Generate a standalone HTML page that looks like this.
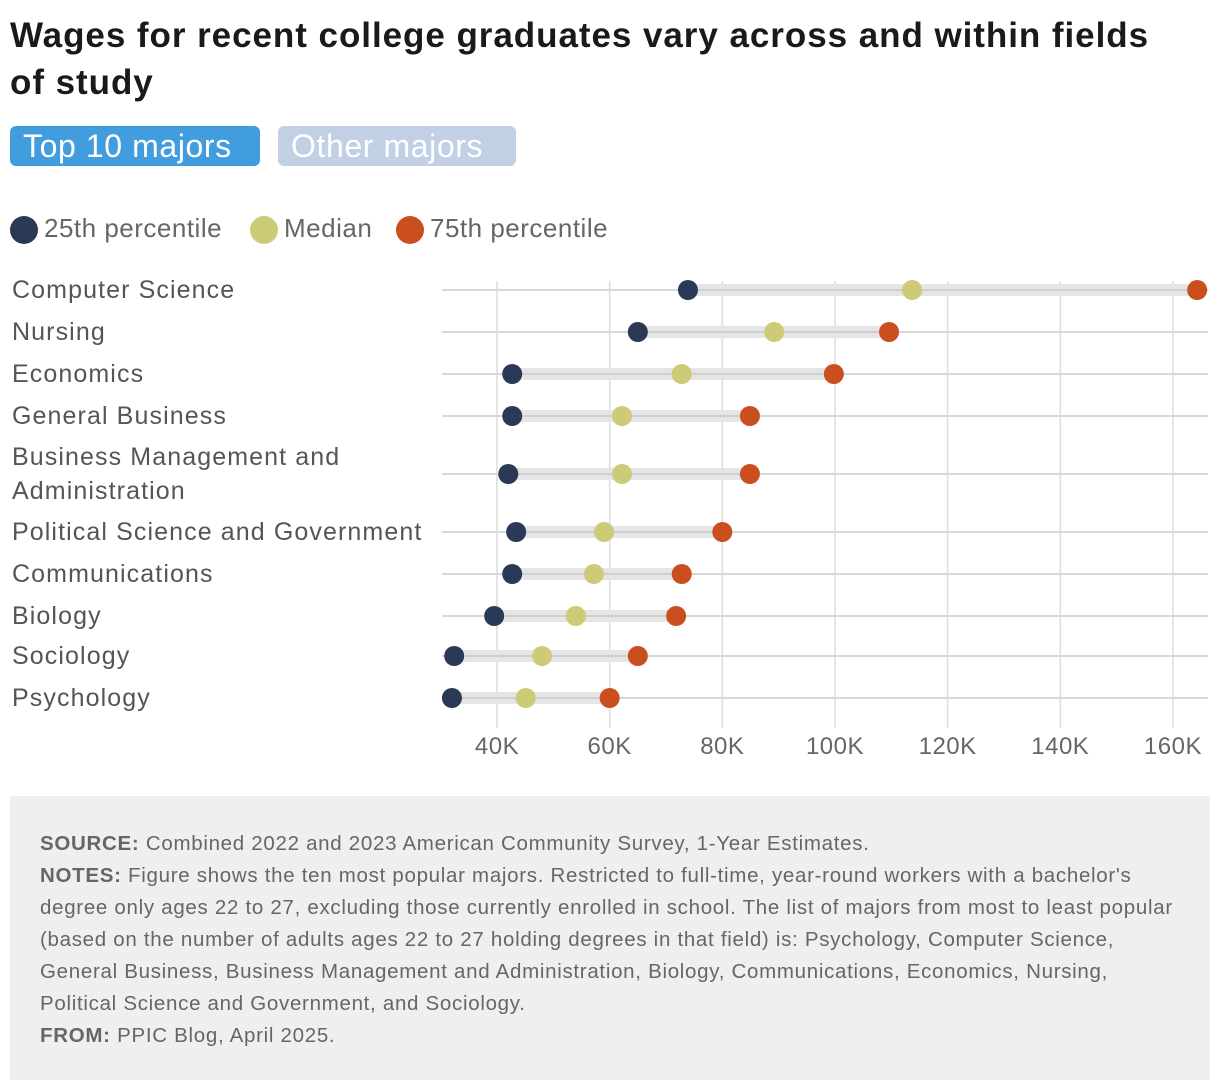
<!DOCTYPE html>
<html><head><meta charset="utf-8"><style>
body{margin:0;width:1220px;height:1090px;background:#fff;font-family:"Liberation Sans",sans-serif;position:relative;overflow:hidden}
.t{position:absolute;left:10px;top:12px;width:1210px;font-size:35px;font-weight:bold;color:#1a1a1a;line-height:47px;letter-spacing:0.95px;white-space:nowrap}
.btn{position:absolute;top:126px;height:40px;border-radius:6px;color:#fff;font-size:32px;line-height:40px;padding-left:13px;box-sizing:border-box;letter-spacing:0.6px;white-space:nowrap}
.foot{position:absolute;left:10px;top:796px;width:1200px;height:284px;background:#eeeff1;box-sizing:border-box;padding:32px 30px;font-size:20.5px;line-height:32px;color:#666;letter-spacing:0.7px;white-space:nowrap;overflow:hidden}
.foot b{color:#666}
</style></head><body>
<div class="t">Wages for recent college graduates vary across and within fields<br>of study</div>
<div class="btn" style="left:10px;width:250px;background:#429ddf">Top 10 majors</div>
<div class="btn" style="left:278px;width:238px;background:#c1d0e4">Other majors</div>
<svg id="c" width="1220" height="790" style="position:absolute;left:0;top:0"></svg>
<div class="foot"><b>SOURCE:</b> Combined 2022 and 2023 American Community Survey, 1-Year Estimates.<br><b>NOTES:</b> Figure shows the ten most popular majors. Restricted to full-time, year-round workers with a bachelor's<br>degree only ages 22 to 27, excluding those currently enrolled in school. The list of majors from most to least popular<br>(based on the number of adults ages 22 to 27 holding degrees in that field) is: Psychology, Computer Science,<br>General Business, Business Management and Administration, Biology, Communications, Economics, Nursing,<br>Political Science and Government, and Sociology.<br><b>FROM:</b> PPIC Blog, April 2025.</div>
<script>
const categories=["Computer Science","Nursing","Economics","General Business","Business Management and|Administration","Political Science and Government","Communications","Biology","Sociology","Psychology"];
const p25=[73.9,65,42.7,42.7,42,43.4,42.7,39.5,32.4,32];
const median=[113.7,89.2,72.8,62.2,62.2,59,57.2,54,48,45.1];
const p75=[164.3,109.6,99.8,84.9,84.9,80,72.8,71.8,65,60];
const ticks=[40,60,80,100,120,140,160];
const tickLabels=["40K","60K","80K","100K","120K","140K","160K"];
const rowY=[290,332,374,416,474,532,574,616,656,698];
const NS="http://www.w3.org/2000/svg",svg=document.getElementById('c');
const x=v=>497+(v-40)*5.633;
function mk(t,a,p){const e=document.createElementNS(NS,t);for(const k in a)e.setAttribute(k,a[k]);(p||svg).appendChild(e);return e;}
const cols=["#2a3a56","#cdcb78","#cb4f1e"],names=["25th percentile","Median","75th percentile"],lx=[24,264,410];
names.forEach((n,i)=>{const g=mk('g',{});


mk('circle',{cx:lx[i],cy:230,r:14,fill:cols[i]},g);
const t=mk('text',{x:lx[i]+20,y:237,'font-size':26,fill:'#666','letter-spacing':0.5},g);t.textContent=n;});
ticks.forEach((v,i)=>{const l=mk('line',{x1:x(v),x2:x(v),y1:281,y2:728,stroke:'#dcdcdc','stroke-width':1.5});


const t=mk('text',{x:x(v),y:754,'font-size':24,fill:'#666','text-anchor':'middle','letter-spacing':0.5});t.textContent=tickLabels[i];

});
categories.forEach((c,i)=>{const y=rowY[i];
mk('line',{x1:442,x2:1208,y1:y,y2:y,stroke:'#d8d8d8','stroke-width':2});
const parts=c.split('|');
parts.forEach((p,j)=>{const t=mk('text',{x:12,y:y+8-(parts.length-1)*17+j*34,'font-size':25,fill:'#555','letter-spacing':1.1});t.textContent=p;

});
const b=mk('rect',{x:x(p25[i]),y:y-6,width:x(p75[i])-x(p25[i]),height:12,fill:'#e5e5e5'});


mk('line',{x1:x(p25[i]),x2:x(p75[i]),y1:y,y2:y,stroke:'#cfcfcf','stroke-width':2});
[p25,median,p75].forEach((s,k)=>{const d=mk('circle',{cx:x(s[i]),cy:y,r:10,fill:cols[k]});

});
});
</script>
</body></html>
